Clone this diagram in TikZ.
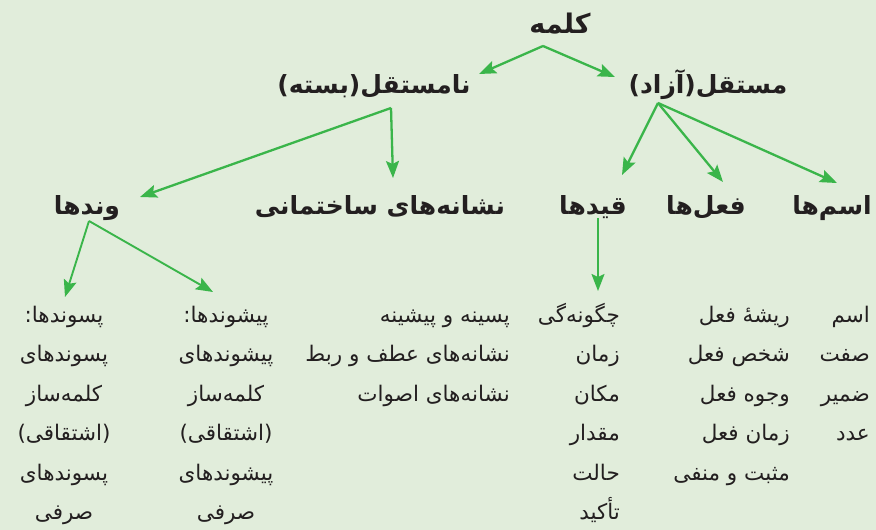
\documentclass[tikz,border=0pt]{standalone}
\usepackage{fontspec}
\usepackage{tikz}
\usetikzlibrary{arrows.meta}
\newfontfamily\farsifont[Script=Arabic]{DejaVu Sans}
\TeXXeTstate=1
\newcommand\fatext[1]{\beginR #1\endR}
\definecolor{bggreen}{HTML}{E1EDDB}
\definecolor{arrowgreen}{HTML}{3AB54A}
\definecolor{textdark}{HTML}{231F20}

\begin{document}
\begin{tikzpicture}[x=1pt,y=-1pt,
  head/.style={font=\farsifont\bfseries\fontsize{25}{30}\selectfont, text=textdark, inner sep=0pt, anchor=base},
  list/.style={font=\farsifont\fontsize{21.5}{39.5}\selectfont, text=textdark, inner sep=0pt},
  arr/.style={draw=arrowgreen, line width=2.3pt, -{Stealth[length=17pt,width=13pt,inset=3pt]}},
  thinarr/.style={arr, line width=1.9pt}]
  \fill[bggreen] (0,0) rectangle (876,530);
  \useasboundingbox (0,0) rectangle (876,530);

  % top levels
  \node (kalameh) at (560,34) [head, font=\farsifont\bfseries\fontsize{27}{30}\selectfont] {\fatext{کلمه}};
  \node (namostaghel) at (374,93) [head] {\fatext{نامستقل(بسته)}};
  \node (mostaghel) at (708,93) [head] {\fatext{مستقل(آزاد)}};

  \node (vandha) at (87,214) [head] {\fatext{وندها}};
  \node (neshaneha) at (380,214) [head] {\fatext{نشانه‌های ساختمانی}};
  \node (gheydha) at (593,214) [head] {\fatext{قیدها}};
  \node (feelha) at (706,214) [head] {\fatext{فعل‌ها}};
  \node (esmha) at (832,214) [head] {\fatext{اسم‌ها}};

  % points where the arrows start and end
  \coordinate (kalameh-a) at (543,46);
  \coordinate (namostaghel-a) at (391,108);
  \coordinate (mostaghel-a) at (658,103);
  \coordinate (vandha-a) at (89,221);
  \coordinate (gheydha-a) at (598,218);

  \draw[arr] (kalameh-a) -- (479,74);
  \draw[arr] (kalameh-a) -- (615,77);
  \draw[arr] (namostaghel-a) -- (140,197);
  \draw[arr] (namostaghel-a) -- (393,178);
  \draw[arr] (mostaghel-a) -- (622,175);
  \draw[arr] (mostaghel-a) -- (723,182);
  \draw[arr] (mostaghel-a) -- (837,183);
  \draw[thinarr] (vandha-a) -- (65,297);
  \draw[thinarr] (vandha-a) -- (213,292);
  \draw[thinarr] (gheydha-a) -- (598,291);

  % lists (anchored at the baseline of the last line)
  \node (esm-list) at (870,440.5) [list, anchor=base east, align=right]
    {\fatext{اسم}\\\fatext{صفت}\\\fatext{ضمیر}\\\fatext{عدد}};
  \node (feel-list) at (790,480) [list, anchor=base east, align=right]
    {\fatext{ریشهٔ فعل}\\\fatext{شخص فعل}\\\fatext{وجوه فعل}\\\fatext{زمان فعل}\\\fatext{مثبت و منفی}};
  \node (gheyd-list) at (620,519.5) [list, anchor=base east, align=right]
    {\fatext{چگونه‌گی}\\\fatext{زمان}\\\fatext{مکان}\\\fatext{مقدار}\\\fatext{حالت}\\\fatext{تأکید}};
  \node (neshane-list) at (510,401) [list, anchor=base east, align=right]
    {\fatext{پسینه و پیشینه}\\\fatext{نشانه‌های عطف و ربط}\\\fatext{نشانه‌های اصوات}};
  \node (pishvand-list) at (226,519.5) [list, anchor=base, align=center]
    {\fatext{پیشوندها:}\\\fatext{پیشوندهای}\\\fatext{کلمه‌ساز}\\\fatext{(اشتقاقی)}\\\fatext{پیشوندهای}\\\fatext{صرفی}};
  \node (pasvand-list) at (64,519.5) [list, anchor=base, align=center]
    {\fatext{پسوندها:}\\\fatext{پسوندهای}\\\fatext{کلمه‌ساز}\\\fatext{(اشتقاقی)}\\\fatext{پسوندهای}\\\fatext{صرفی}};
\end{tikzpicture}
\end{document}
